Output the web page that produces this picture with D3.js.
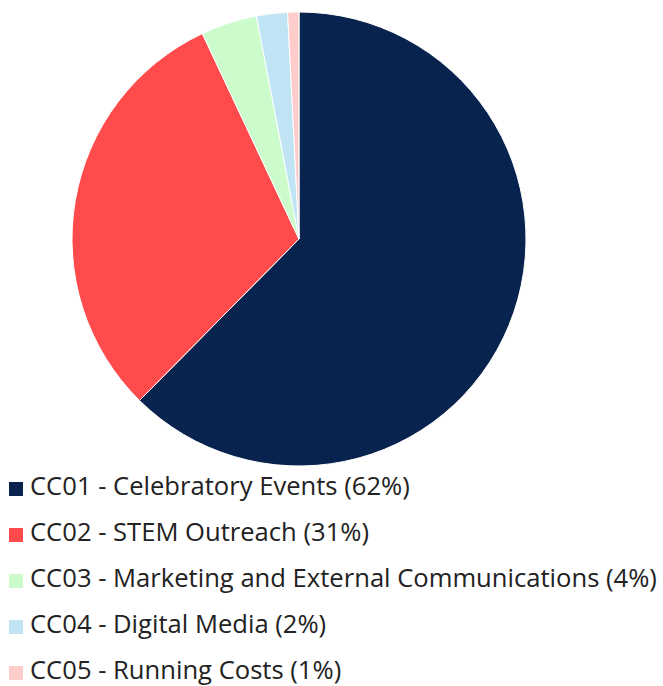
<!DOCTYPE html>
<html>
<head>
<meta charset="utf-8">
<script src="https://cdn.jsdelivr.net/npm/d3@7"></script>
<style>
  body { margin: 0; background: #fff; overflow: hidden; }
  text { font-family: "Open Sans", sans-serif; }
</style>
</head>
<body>
<div id="chart"></div>
<script>
// cost centre shares
var categories = ["CC01 - Celebratory Events", "CC02 - STEM Outreach",
  "CC03 - Marketing and External Communications", "CC04 - Digital Media", "CC05 - Running Costs"];
var values = [62.4, 30.6, 4.0, 2.2, 0.8];
var pctLabels = ["62%", "31%", "4%", "2%", "1%"];
var colors = ["#08234d", "#ff4b4b", "#ccfccb", "#c0e4f4", "#ffcccc"];

var width = 663, height = 686;
var cx = 299, cy = 239, radius = 227;

var svg = d3.select("#chart")
    .append("svg")
    .attr("width", width)
    .attr("height", height);

var data = categories.map(function(c, i) {
  return {name: c, value: values[i], pct: pctLabels[i]};
});

var color = d3.scaleOrdinal().domain(categories).range(colors);

var pie = d3.pie()
    .sort(null)
    .value(function(d) { return d.value; });

var arc = d3.arc()
    .innerRadius(0)
    .outerRadius(radius);

// slices
svg.append("g")
    .attr("transform", "translate(" + cx + "," + cy + ")")
  .selectAll("path")
  .data(pie(data))
  .enter()
  .append("path")
    .attr("d", arc)
    .attr("fill", function(d) { return color(d.data.name); })
    .attr("stroke", "#fff")
    .attr("stroke-width", 1);

// legend
var legendY = d3.scaleBand()
    .domain(categories)
    .range([465, 695]);

var legend = svg.append("g")
  .selectAll("g")
  .data(data)
  .enter()
  .append("g")
    .attr("transform", function(d) { return "translate(0," + legendY(d.name) + ")"; });

legend.append("rect")
    .attr("x", 9)
    .attr("y", 17)
    .attr("width", 14)
    .attr("height", 14)
    .attr("fill", function(d) { return color(d.name); });

legend.append("text")
    .attr("x", 30)
    .attr("y", 30)
    .attr("font-size", 25.6)
    .attr("fill", "#222")
    .text(function(d) { return d.name + " (" + d.pct + ")"; });
</script>
</body>
</html>
